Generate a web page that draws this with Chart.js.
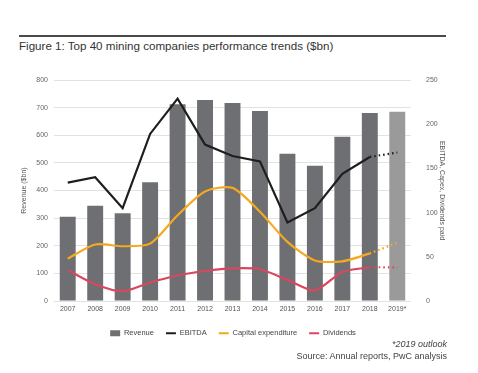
<!DOCTYPE html>
<html>
<head>
<meta charset="utf-8">
<script src="https://cdn.jsdelivr.net/npm/chart.js@4.4.1/dist/chart.umd.min.js"></script>
<style>
  body { margin: 0; background: #fff; font-family: "Liberation Sans", Arial, sans-serif; }
  #wrap { position: relative; width: 478px; height: 373px; }
  #rule { position: absolute; left: 19px; top: 35px; width: 427px; height: 2px; background: #4a4a4a; }
  #title { position: absolute; left: 19px; top: 39px; font-size: 11.6px; color: #333; }
  .note { position: absolute; right: 31px; font-size: 9px; color: #444; text-align: right; }
  #outlook { top: 339px; font-style: italic; }
  #source { top: 351px; }
  canvas { position: absolute; left: 0; top: 0; }
</style>
</head>
<body>
<div id="wrap">
  <div id="rule"></div>
  <div id="title">Figure 1: Top 40 mining companies performance trends ($bn)</div>
  <canvas id="chart" width="478" height="373"></canvas>
  <div class="note" id="outlook">*2019 outlook</div>
  <div class="note" id="source">Source: Annual reports, PwC analysis</div>
</div>
<script>
// values, $bn
const years = ['2007', '2008', '2009', '2010', '2011', '2012', '2013', '2014', '2015', '2016', '2017', '2018', '2019*'];
const revenue = [305, 345, 318, 430, 712, 728, 717, 688, 533, 490, 595, 681, 685];
const ebitda = [134, 140, 105, 189, 229, 177, 164, 158, 89, 105, 144, 163, 168];
const capex = [48, 64, 62, 65, 97, 124, 128, 101, 67, 46, 45, 54, 66];
const dividends = [35, 19, 11, 21, 29, 34, 37, 36, 24, 12, 33, 38, 38];
const legendOrder = ['Revenue', 'EBITDA', 'Capital expenditure', 'Dividends'];

const barColors = years.map((y, i) => i === years.length - 1 ? '#9a9a9a' : '#6e6f72');

// last segment (2018 -> 2019 outlook) is dotted
const dotted = ctx => ctx.p0DataIndex === years.length - 2 ? [1.5, 3] : undefined;

const tickFont = { family: 'Liberation Sans', size: 7 };

new Chart(document.getElementById('chart'), {
    data: {
        labels: years,
        datasets: [{
            type: 'line',
            label: 'EBITDA',
            data: ebitda,
            yAxisID: 'y1',
            borderColor: '#1e1e1e',
            backgroundColor: '#1e1e1e',
            borderWidth: 2.2,
            pointRadius: 0,
            pointStyle: 'line',
            tension: 0,
            segment: { borderDash: dotted },
            order: 1
        }, {
            type: 'line',
            label: 'Capital expenditure',
            data: capex,
            yAxisID: 'y1',
            borderColor: '#f6a91e',
            backgroundColor: '#f6a91e',
            borderWidth: 2.2,
            pointRadius: 0,
            pointStyle: 'line',
            tension: 0.25,
            segment: { borderDash: dotted },
            order: 2
        }, {
            type: 'line',
            label: 'Dividends',
            data: dividends,
            yAxisID: 'y1',
            borderColor: '#d9475f',
            backgroundColor: '#d9475f',
            borderWidth: 2.2,
            pointRadius: 0,
            pointStyle: 'line',
            tension: 0.25,
            segment: { borderDash: dotted },
            order: 3
        }, {
            type: 'bar',
            label: 'Revenue',
            data: revenue,
            yAxisID: 'y',
            backgroundColor: barColors,
            pointStyle: 'rect',
            categoryPercentage: 1,
            barPercentage: 0.58,
            order: 4
        }]
    },
    options: {
        responsive: false,
        devicePixelRatio: 1,
        animation: false,
        layout: { padding: { top: 80, left: 20, right: 32, bottom: 26 } },
        plugins: {
            tooltip: { enabled: false },
            legend: {
                position: 'bottom',
                labels: {
                    usePointStyle: true,
                    pointStyleWidth: 10,
                    boxHeight: 6,
                    padding: 12,
                    color: '#444',
                    font: { family: 'Liberation Sans', size: 7.5 },
                    sort: (a, b) => legendOrder.indexOf(a.text) - legendOrder.indexOf(b.text)
                }
            }
        },
        scales: {
            x: {
                grid: { display: false, drawTicks: false },
                border: { display: false },
                ticks: { color: '#555', font: tickFont, padding: 4, maxRotation: 0 }
            },
            y: {
                position: 'left',
                min: 0,
                max: 800,
                ticks: { stepSize: 100, color: '#666', font: tickFont, padding: 6 },
                grid: { color: '#e2e2e2', drawTicks: false },
                border: { display: false },
                title: { display: true, text: 'Revenue ($bn)', color: '#555', font: tickFont, padding: 0 },
                afterFit: s => { s.width = 34; }
            },
            y1: {
                position: 'right',
                min: 0,
                max: 250,
                ticks: { stepSize: 50, color: '#666', font: tickFont, padding: 7 },
                grid: { display: false },
                border: { display: false },
                title: { display: true, text: 'EBITDA, Capex, Dividends paid', color: '#555', font: tickFont, padding: 0 },
                afterFit: s => { s.width = 35; }
            }
        }
    }
});
</script>
</body>
</html>
